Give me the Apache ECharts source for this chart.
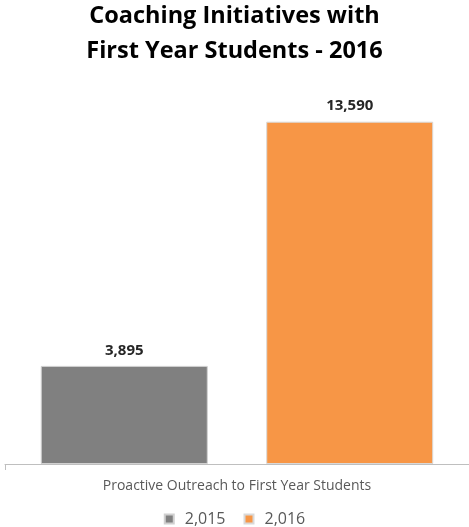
<!DOCTYPE html>
<html>
<head>
<meta charset="utf-8">
<script src="https://cdn.jsdelivr.net/npm/echarts@6/dist/echarts.min.js"></script>
<style>
  html, body { margin: 0; padding: 0; background: #fff; }
  #chart { width: 469px; height: 527px; }
</style>
</head>
<body>
<div id="chart"></div>
<script>
// chart data
const categories = ["Proactive Outreach to First Year Students"];
const seriesNames = ["2,015", "2,016"];
const values2015 = [3895];
const values2016 = [13590];

const chart = echarts.init(document.getElementById("chart"));

const labelStyle = {
  show: true,
  position: "top",
  distance: 8,
  fontFamily: "Open Sans",
  fontWeight: "bold",
  fontSize: 15,
  color: "#262626",
  formatter: p => p.value.toLocaleString("en-US")
};

chart.setOption({
  animation: false,
  title: {
    text: "Coaching Initiatives with\nFirst Year Students - 2016",
    left: "center",
    top: -6,
    textStyle: {
      fontFamily: "Open Sans",
      fontWeight: "bold",
      fontSize: 23.5,
      lineHeight: 35,
      color: "#000"
    }
  },
  legend: {
    data: seriesNames,
    bottom: -5,
    left: "center",
    icon: "rect",
    itemWidth: 9,
    itemHeight: 9,
    itemGap: 18,
    textStyle: {
      fontFamily: "Open Sans",
      fontSize: 16,
      color: "#595959",
      padding: [0, 0, 0, 6]
    }
  },
  grid: {
    top: 61,
    left: 5,
    right: 0,
    bottom: 63
  },
  xAxis: {
    type: "category",
    data: categories,
    axisLine: { lineStyle: { color: "#bfbfbf", width: 1 } },
    axisTick: { show: true, length: 6, lineStyle: { color: "#bfbfbf" } },
    axisLabel: {
      margin: 15,
      fontFamily: "Open Sans",
      fontSize: 14,
      color: "#595959"
    }
  },
  yAxis: {
    type: "value",
    min: 0,
    max: 16000,
    show: false
  },
  series: [
    {
      name: seriesNames[0],
      type: "bar",
      data: values2015,
      barWidth: 167,
      barGap: "35%",
      itemStyle: { color: "#808080", borderColor: "#d0d0d0", borderWidth: 1 },
      label: labelStyle
    },
    {
      name: seriesNames[1],
      type: "bar",
      data: values2016,
      barWidth: 167,
      itemStyle: { color: "#f79646", borderColor: "#d9d9d9", borderWidth: 1 },
      label: labelStyle
    }
  ]
});
</script>
</body>
</html>
